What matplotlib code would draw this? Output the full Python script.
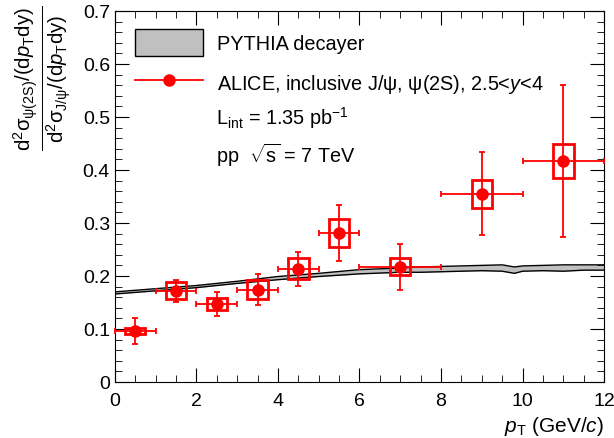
import numpy as np
import matplotlib.pyplot as plt
from matplotlib.patches import Patch, Rectangle
from matplotlib.lines import Line2D
from matplotlib.ticker import MultipleLocator

plt.rcParams.update({
    'font.family': ['Liberation Sans', 'DejaVu Sans'],
    'mathtext.fontset': 'custom',
    'mathtext.rm': 'Liberation Sans',
    'mathtext.it': 'Liberation Sans:italic',
    'mathtext.bf': 'Liberation Sans:bold',
    'font.size': 14,
})

# ALICE data: psi(2S)/J/psi ratio
pt = [0.5, 1.5, 2.5, 3.5, 4.5, 5.5, 7.0, 9.0, 11.0]
pt_lo = [0.0, 1.0, 2.0, 3.0, 4.0, 5.0, 6.0, 8.0, 10.0]
pt_hi = [1.0, 2.0, 3.0, 4.0, 5.0, 6.0, 8.0, 10.0, 12.0]
ratio = [0.096, 0.172, 0.147, 0.174, 0.214, 0.281, 0.217, 0.355, 0.417]
stat_err = [0.025, 0.021, 0.023, 0.029, 0.032, 0.052, 0.043, 0.078, 0.143]
syst_err = [0.006, 0.016, 0.012, 0.018, 0.019, 0.027, 0.016, 0.027, 0.032]

# PYTHIA decayer band
py_pt = [0, 1, 2, 3, 4, 5, 6, 7, 7.5, 8, 8.5, 9, 9.5, 9.8, 10, 10.5, 11, 11.5, 12]
py_mid = [0.168, 0.174, 0.180, 0.188, 0.196, 0.202, 0.208, 0.211, 0.212, 0.213,
          0.214, 0.215, 0.215, 0.211, 0.214, 0.215, 0.215, 0.216, 0.216]
py_half = [0.002, 0.002, 0.002, 0.002, 0.003, 0.003, 0.004, 0.004, 0.005, 0.005,
           0.005, 0.005, 0.006, 0.006, 0.005, 0.005, 0.006, 0.005, 0.005]

RED = '#ff0000'

fig = plt.figure(figsize=(6.14, 4.39), dpi=100)
ax = fig.add_axes([0.187, 0.1276, 0.797, 0.8451])

mid = np.array(py_mid)
half = np.array(py_half)
ax.fill_between(py_pt, mid - half, mid + half, color='#c0c0c0', lw=0)
ax.plot(py_pt, mid - half, color='black', lw=1)
ax.plot(py_pt, mid + half, color='black', lw=1)

# systematic boxes
for x, y, s in zip(pt, ratio, syst_err):
    ax.add_patch(Rectangle((x - 0.25, y - s), 0.5, 2 * s, fill=False,
                           edgecolor=RED, lw=2, zorder=4))

xerr = [np.array(pt) - np.array(pt_lo), np.array(pt_hi) - np.array(pt)]
ax.errorbar(pt, ratio, xerr=xerr, yerr=stat_err, fmt='o', color=RED,
            ms=8, elinewidth=1.3, capsize=2.5, capthick=1.3, zorder=5,
            clip_on=False)

ax.set_xlim(0, 12)
ax.set_ylim(0, 0.7)
ax.xaxis.set_major_locator(MultipleLocator(2))
ax.xaxis.set_minor_locator(MultipleLocator(0.5))
ax.yaxis.set_major_locator(MultipleLocator(0.1))
ax.yaxis.set_minor_locator(MultipleLocator(0.02))
ax.tick_params(which='both', direction='in', top=True, right=True, labelsize=14)
ax.tick_params(which='major', length=10)
ax.tick_params(which='minor', length=5)
ax.tick_params(axis='x', pad=7)
ax.set_yticks(np.arange(0, 0.71, 0.1))
ax.set_yticklabels(['0', '0.1', '0.2', '0.3', '0.4', '0.5', '0.6', '0.7'])
ax.set_xticks(np.arange(0, 12.1, 2))
ax.set_xticklabels(['0', '2', '4', '6', '8', '10', '12'])

ax.set_xlabel(r'$p_{\rm T}$ (GeV/$\mathit{c}$)', fontsize=15, loc='right', labelpad=4)
ax.set_ylabel(r'$\frac{\mathrm{d^2σ}_{\mathrm{ψ(2S)}}/(\mathrm{d}p_{\rm T}\mathrm{dy})}'
              r'{\mathrm{d^2σ}_{\mathrm{J/ψ}}/(\mathrm{d}p_{\rm T}\mathrm{dy})}$',
              fontsize=21)
ax.yaxis.set_label_coords(-0.085, 0.82)

handles = [Patch(facecolor='#c0c0c0', edgecolor='black', lw=1),
           Line2D([], [], color=RED, marker='o', ms=8, lw=1.3)]
labels = ['PYTHIA decayer', r'ALICE, inclusive J/ψ, ψ(2S), 2.5<$y$<4']
ax.legend(handles, labels, loc='upper left', bbox_to_anchor=(0.025, 0.972),
          frameon=False, fontsize=14.3, handlelength=3.4, handleheight=1.7,
          labelspacing=0.68, handletextpad=0.75, borderaxespad=0)

ax.text(0.206, 0.715, r'L$_{\rm int}$ = 1.35 pb$^{-1}$', transform=ax.transAxes,
        fontsize=14.3, va='center')
ax.text(0.206, 0.613, r'pp  $\sqrt{\mathrm{s}}$ = 7 TeV', transform=ax.transAxes,
        fontsize=14.3, va='center')

fig.savefig('out.png', dpi=100)
